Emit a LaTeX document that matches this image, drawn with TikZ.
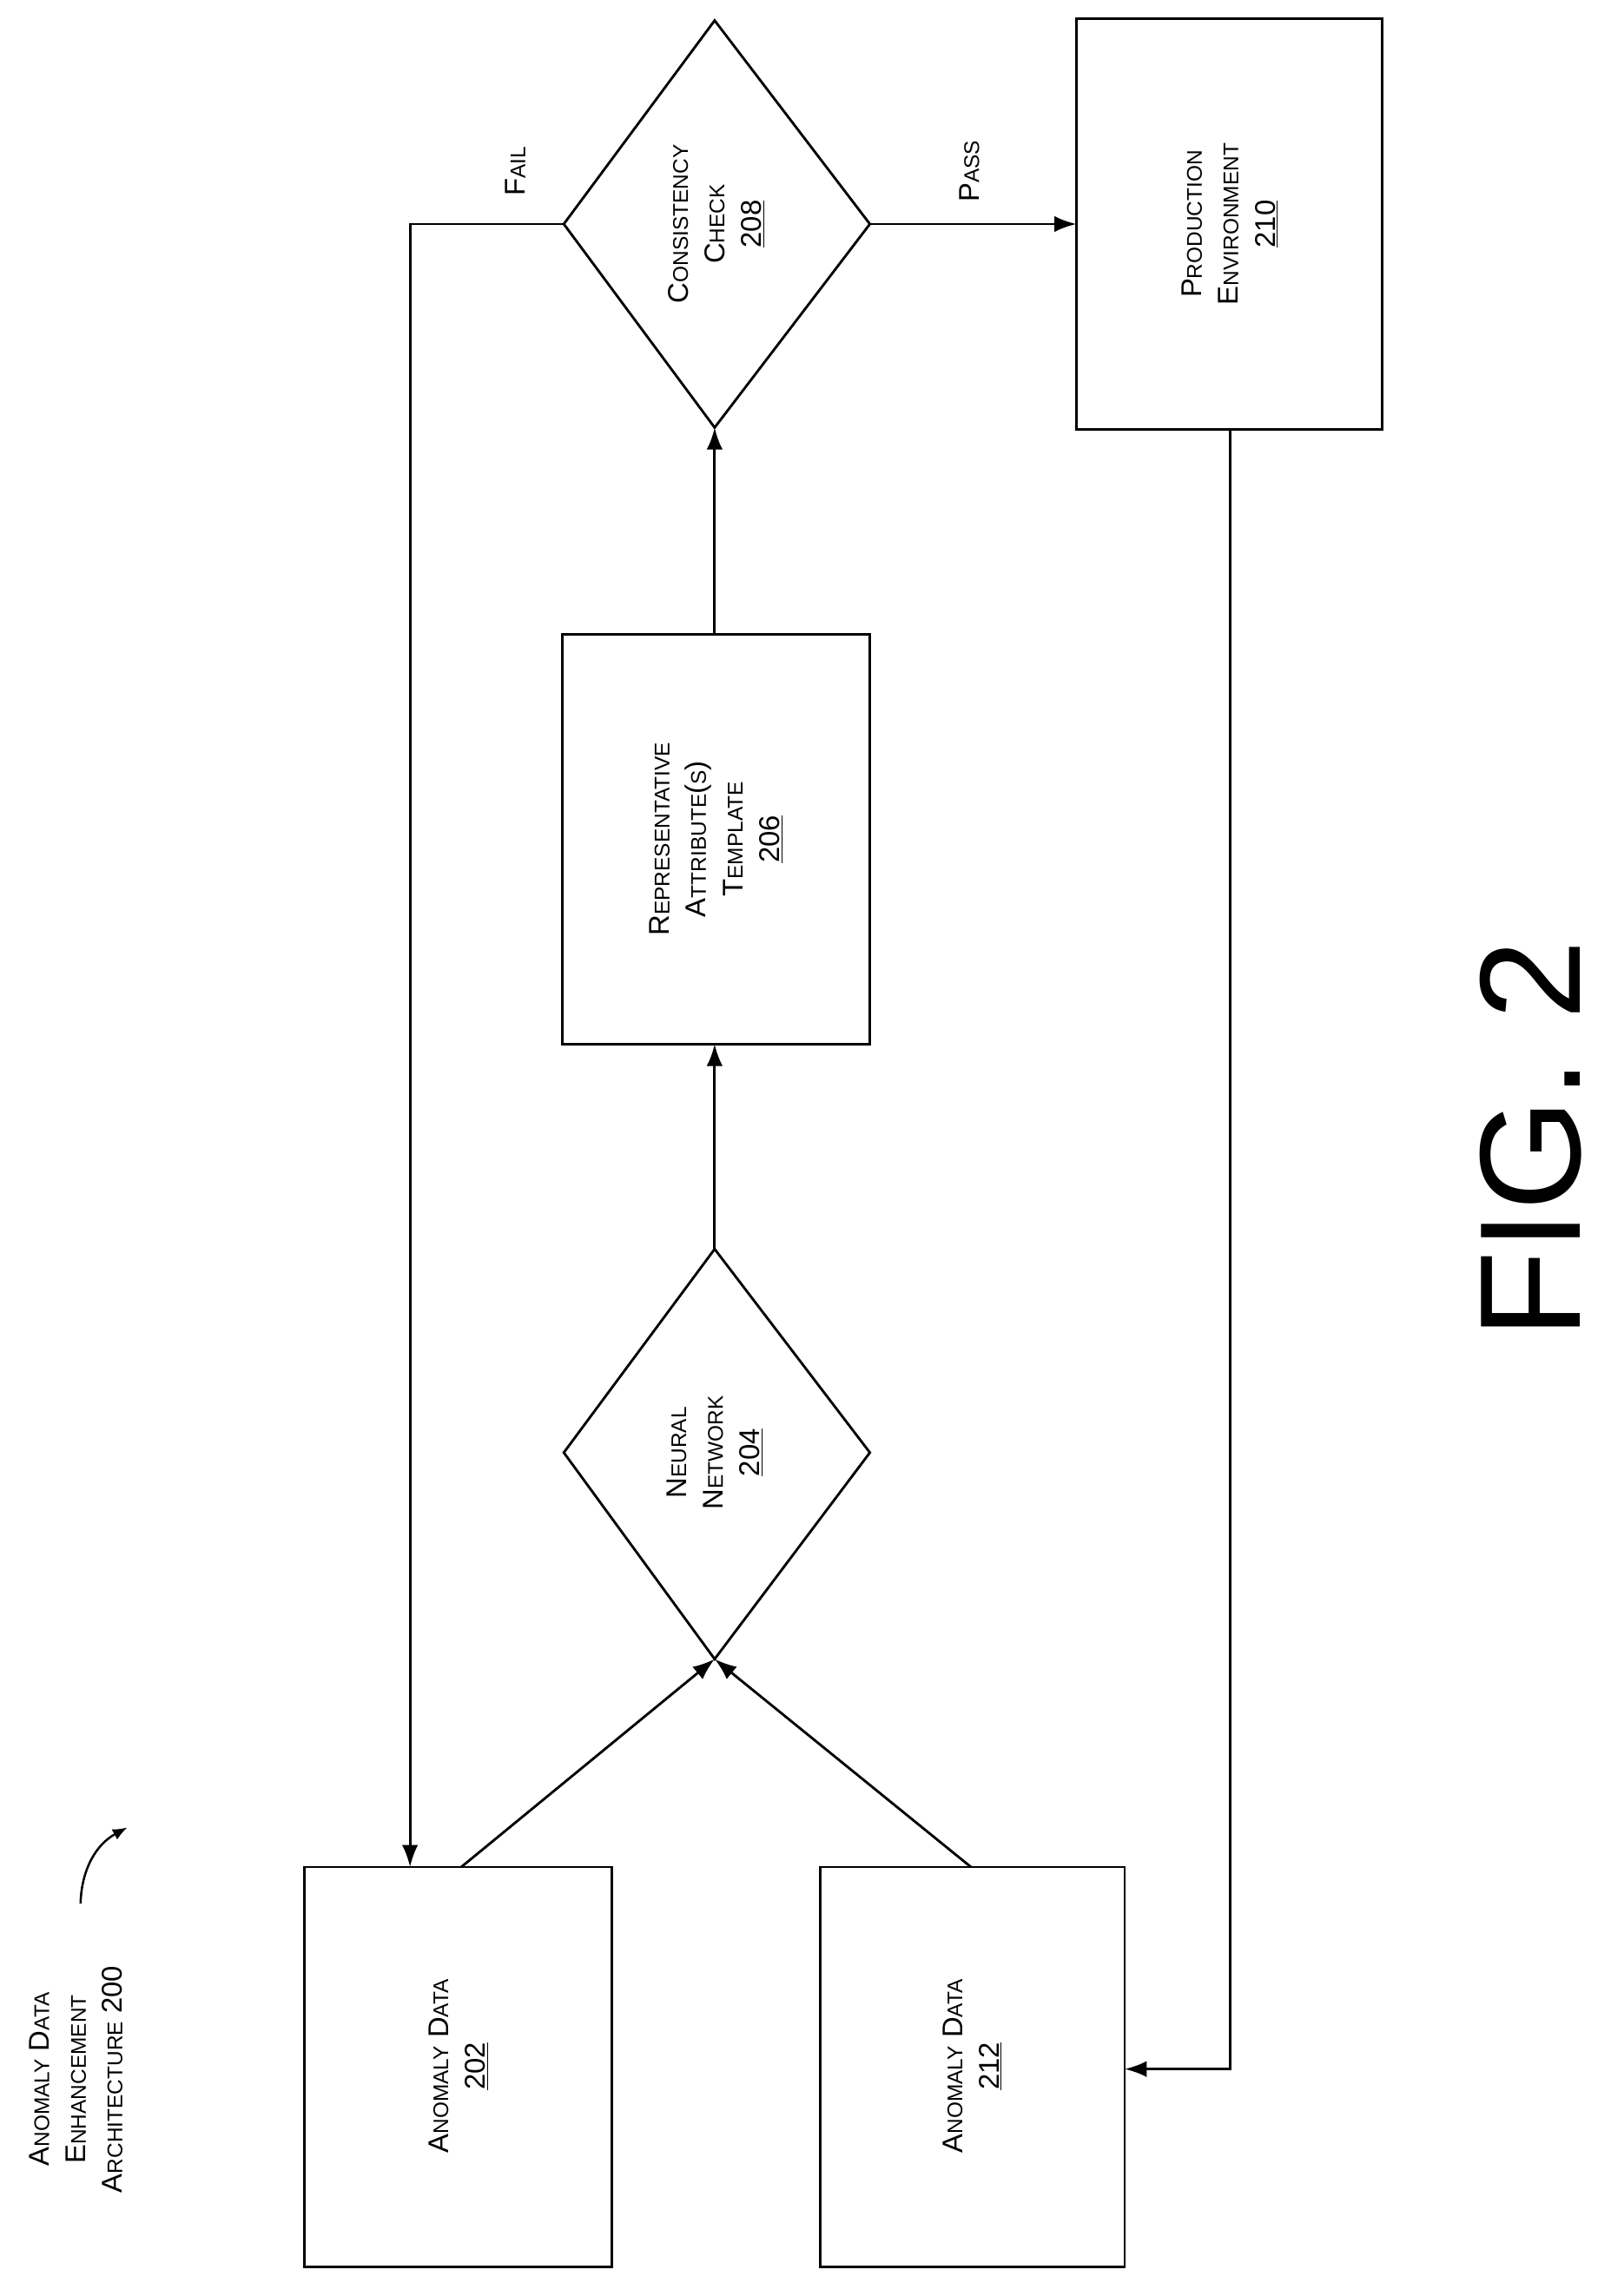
\documentclass[tikz,border=0pt]{standalone}
\usetikzlibrary{arrows.meta}
\usepackage{fontspec}
\setmainfont{Liberation Sans}
\newcommand\sm[1]{{\fontsize{14.5}{16}\selectfont #1}}
\begin{document}
\begin{tikzpicture}[x=1pt,y=-1pt,
  box/.style={draw,line width=1.7pt},
  lbl/.style={rotate=90,align=center,font=\fontsize{19.5}{25}\selectfont},
  arr/.style={-{Latex[length=15pt,width=11pt]},line width=1.7pt}]
\useasboundingbox (0,0) rectangle (1100,1568);
\draw[box] (208,1275) rectangle (418,1548);
\draw[box] (560,1275) rectangle (768,1548);
\draw[box] (384,433) rectangle (594,713);
\draw[box] (735,13) rectangle (944,293);
\draw[box] (488,853) -- (594,992) -- (488,1133) -- (385,992) -- cycle;
\draw[box] (488,14) -- (594,153) -- (488,292) -- (385,153) -- cycle;
\coordinate (d1b) at (488,1133);
\node[lbl] (a202) at (313,1411) {A\sm{NOMALY} D\sm{ATA}\\\underline{202}};
\node[lbl] (a212) at (664,1411) {A\sm{NOMALY} D\sm{ATA}\\\underline{212}};
\node[lbl] (nn) at (488,992) {N\sm{EURAL}\\N\sm{ETWORK}\\\underline{204}};
\node[lbl] (rt) at (489,573) {R\sm{EPRESENTATIVE}\\A\sm{TTRIBUTE}(\sm{S})\\T\sm{EMPLATE}\\\underline{206}};
\node[lbl] (cc) at (489,153) {C\sm{ONSISTENCY}\\C\sm{HECK}\\\underline{208}};
\node[lbl] (pe) at (840,153) {P\sm{RODUCTION}\\E\sm{NVIRONMENT}\\\underline{210}};
\node[lbl,anchor=center] (title) at (52,1420) {A\sm{NOMALY} D\sm{ATA}\\E\sm{NHANCEMENT}\\A\sm{RCHITECTURE} 200};
\node[lbl] (fail) at (352,117) {F\sm{AIL}};
\node[lbl] (pass) at (662,117) {P\sm{ASS}};
\node[rotate=90,font=\fontsize{98}{110}\selectfont] (fig) at (1045,778) {FIG. 2};
\draw[arr] (315,1275) -- (d1b);
\draw[arr] (663,1275) -- (d1b);
\draw[arr] (488,853) -- (488,713);
\draw[arr] (488,433) -- (488,292);
\draw[arr] (594,153) -- (735,153);
\draw[arr] (385,153) -- (280,153) -- (280,1275);
\draw[arr] (840,293) -- (840,1413) -- (768,1413);
\draw[-{Latex[length=10pt,width=8pt]},line width=1.5pt] (55,1300) to[bend left=30] (87,1248);
\end{tikzpicture}
\end{document}
